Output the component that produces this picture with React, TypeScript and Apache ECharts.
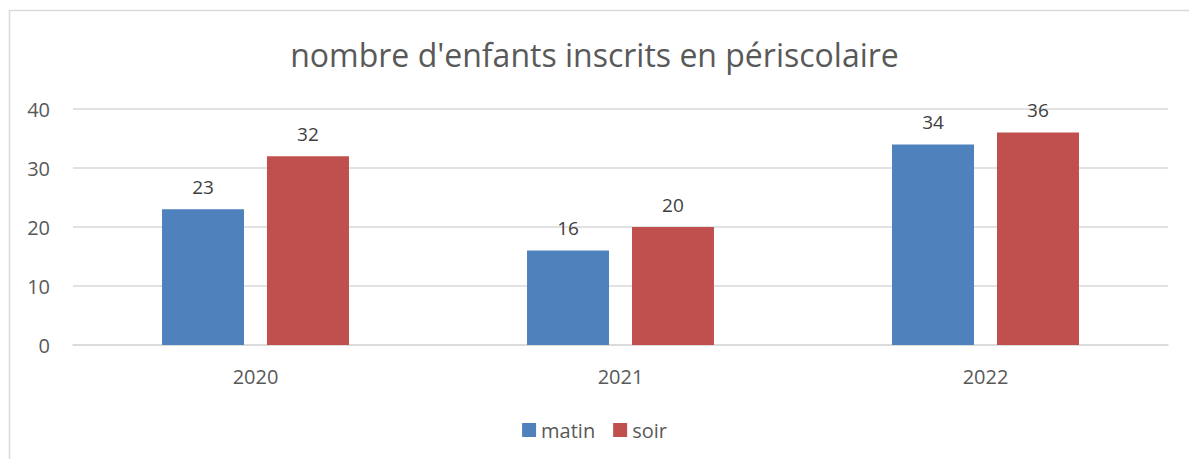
import React, { useEffect, useRef } from "react";
import * as echarts from "echarts";

const categories = ["2020", "2021", "2022"];
const matin = [23, 16, 34];
const soir = [32, 20, 36];
const seriesNames = ["matin", "soir"];
const titleText = "nombre d'enfants inscrits en périscolaire";

export default function App() {
  const ref = useRef<HTMLDivElement>(null);
  useEffect(() => {
    const chart = echarts.init(ref.current!, null, { renderer: "svg" });
    const font = "'Open Sans', 'Noto Sans', sans-serif";
    chart.setOption({
      animation: false,
      backgroundColor: "#ffffff",
      title: {
        text: titleText,
        left: "center",
        top: 33,
        textStyle: { fontFamily: font, fontSize: 32, fontWeight: "normal", color: "#595959" },
      },
      graphic: [
        {
          type: "rect",
          shape: { x: 9.5, y: 10.5, width: 1250, height: 500 },
          style: { fill: "none", stroke: "#d9d9d9", lineWidth: 1.5 },
          silent: true,
          z: -1,
        },
      ],
      legend: {
        bottom: 14,
        left: "center",
        itemWidth: 14,
        itemHeight: 14,
        itemGap: 18,
        icon: "rect",
        textStyle: { fontFamily: font, fontSize: 20, color: "#595959" },
        data: seriesNames,
      },
      grid: { left: 73, right: 21, top: 109, bottom: 114, containLabel: false },
      xAxis: {
        type: "category",
        data: categories,
        axisLine: { lineStyle: { color: "#d9d9d9", width: 1.5 } },
        axisTick: { show: false },
        axisLabel: { fontFamily: font, fontSize: 20, color: "#595959", margin: 21 },
      },
      yAxis: {
        type: "value",
        min: 0,
        max: 40,
        interval: 10,
        axisLine: { show: false },
        axisTick: { show: false },
        splitLine: { lineStyle: { color: "#d9d9d9", width: 1.5 } },
        axisLabel: { fontFamily: font, fontSize: 20, color: "#595959", margin: 23 },
      },
      series: [
        {
          name: seriesNames[0],
          type: "bar",
          data: matin,
          barWidth: 82,
          barGap: "28%",
          itemStyle: { color: "#4f81bd" },
          label: { show: true, position: "top", distance: 13, fontFamily: font, fontSize: 19, color: "#404040" },
        },
        {
          name: seriesNames[1],
          type: "bar",
          data: soir,
          barWidth: 82,
          barGap: "28%",
          itemStyle: { color: "#c0504d" },
          label: { show: true, position: "top", distance: 13, fontFamily: font, fontSize: 19, color: "#404040" },
        },
      ],
    });
    return () => chart.dispose();
  }, []);
  return <div ref={ref} style={{ width: 1189, height: 459, position: "absolute", left: 0, top: 0 }} />;
}
